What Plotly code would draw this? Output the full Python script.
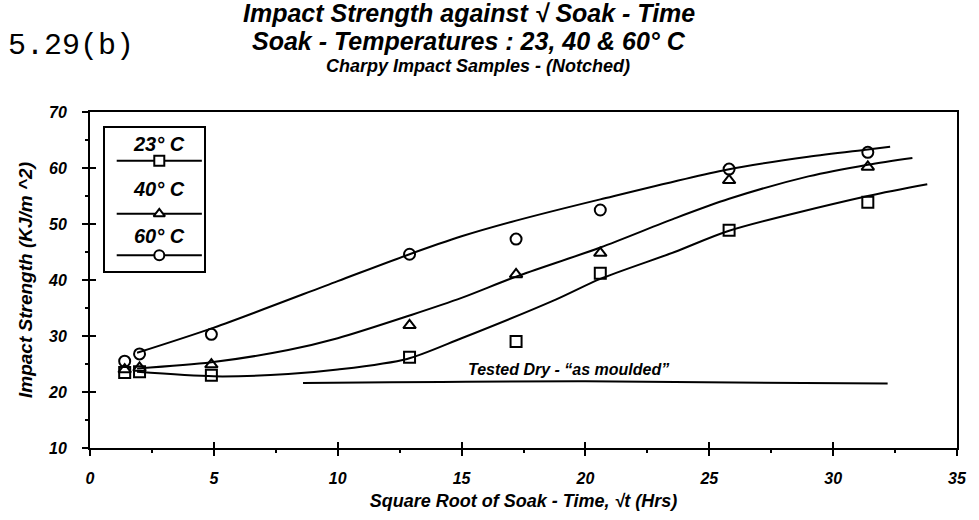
import plotly.graph_objects as go

# Square root of soak time (hrs^0.5) for each measurement
sqrt_t = [1.4, 2.0, 4.9, 12.9, 17.2, 20.6, 25.8, 31.4]

# Measured Charpy impact strength (KJ/m^2) per soak temperature
strength_23 = [23.5, 23.6, 23.0, 26.2, 29.0, 41.2, 48.9, 53.9]
strength_40 = [24.0, 24.3, 24.9, 31.9, 41.0, 44.8, 57.8, 60.2]
strength_60 = [25.5, 26.8, 30.3, 44.6, 47.3, 52.5, 59.8, 62.8]

# Hand-fitted trend curves (x, y) for each temperature
fit23_x = [1.9, 5.0, 8.0, 10.0, 12.8, 15.0, 18.8, 20.6, 23.6, 25.8, 31.4, 33.8]
fit23_y = [23.6, 22.8, 23.2, 24.0, 25.9, 29.6, 36.5, 40.2, 45.0, 48.8, 55.0, 57.1]
fit40_x = [1.9, 4.9, 8.0, 10.0, 13.0, 15.0, 17.2, 20.6, 23.6, 25.8, 29.0, 31.4, 33.2]
fit40_y = [24.2, 25.3, 27.5, 29.6, 33.8, 36.8, 40.6, 45.8, 51.0, 54.5, 58.5, 60.6, 61.8]
fit60_x = [1.9, 5.0, 10.0, 12.9, 15.0, 17.2, 20.6, 25.7, 29.0, 31.4, 32.3]
fit60_y = [27.0, 31.5, 39.8, 44.6, 47.8, 50.6, 54.4, 59.7, 62.0, 63.3, 63.8]

# Dry (as moulded) reference level
dry_x = [8.6, 20.0, 32.2]
dry_y = [21.6, 21.9, 21.5]

x_ticks = [0, 5, 10, 15, 20, 25, 30, 35]
y_ticks = [10, 20, 30, 40, 50, 60, 70]

series_names = ["23° C", "40° C", "60° C"]
symbols = ["square-open", "triangle-up-open", "circle-open"]
key_symbols = ["square", "triangle-up", "circle"]

FONT = "Liberation Sans"
BI = dict(family=FONT, weight="bold", style="italic", color="black")

fig = go.Figure()

# Trend curves
for fx, fy in [(fit23_x, fit23_y), (fit40_x, fit40_y), (fit60_x, fit60_y)]:
    fig.add_trace(go.Scatter(x=fx, y=fy, mode="lines",
                             line=dict(color="black", width=2, shape="spline", smoothing=0.8),
                             showlegend=False, hoverinfo="skip"))

# Measured points
for vals, sym, name in zip([strength_23, strength_40, strength_60], symbols, series_names):
    fig.add_trace(go.Scatter(x=sqrt_t, y=vals, mode="markers", name=name,
                             marker=dict(symbol=sym, size=11, color="black", line=dict(width=2, color="black")),
                             showlegend=False))

# Dry reference line (drawn on the overlay axes that carry the inner tick marks)
fig.add_trace(go.Scatter(x=dry_x, y=dry_y, xaxis="x2", yaxis="y2", mode="lines",
                         line=dict(color="black", width=2, shape="spline"), showlegend=False, hoverinfo="skip"))

# Boxed key: sample line + marker per series with the label above it
key_rows = [0.77, 0.40, 0.11]
key_labels = [0.885, 0.575, 0.245]
for sym, row in zip(key_symbols, key_rows):
    fig.add_trace(go.Scatter(x=[0.12, 0.98], y=[row, row], xaxis="x3", yaxis="y3", mode="lines",
                             line=dict(color="black", width=2), showlegend=False, hoverinfo="skip"))
    fig.add_trace(go.Scatter(x=[0.55], y=[row], xaxis="x3", yaxis="y3", mode="markers",
                             marker=dict(symbol=sym, size=10, color="white", line=dict(width=2, color="black")),
                             showlegend=False, hoverinfo="skip"))

annotations = []
for name, ly in zip(series_names, key_labels):
    annotations.append(dict(x=0.55, y=ly, xref="x3", yref="y3", text=name, showarrow=False,
                            yanchor="middle", font=dict(size=20, **BI)))

annotations += [
    dict(x=0.437, y=1.294, xref="paper", yref="paper", text="Impact Strength against √ Soak - Time",
         showarrow=False, yanchor="middle", font=dict(size=25, **BI)),
    dict(x=0.437, y=1.212, xref="paper", yref="paper", text="Soak - Temperatures : 23, 40 & 60° C",
         showarrow=False, yanchor="middle", font=dict(size=25, **BI)),
    dict(x=0.447, y=1.138, xref="paper", yref="paper", text="Charpy Impact Samples - (Notched)",
         showarrow=False, yanchor="middle", font=dict(size=18, **BI)),
    dict(x=-0.097, y=1.197, xref="paper", yref="paper", text="5.29(b)", xanchor="left",
         showarrow=False, yanchor="middle", font=dict(family="Liberation Mono", size=30, color="black")),
    dict(x=19.3, y=24.1, xref="x", yref="y", text="Tested Dry - “as moulded”",
         showarrow=False, yanchor="middle", font=dict(size=16, **BI)),
]

axis_common = dict(showgrid=False, zeroline=False, linecolor="black", linewidth=2,
                   tickcolor="black", tickwidth=2, ticklen=6)
# Second pair of axes over the plot: only draws the inner half of each major tick
overlay_common = dict(showgrid=False, zeroline=False, tickcolor="black", tickwidth=2, ticklen=6,
                      showticklabels=False, showline=True, linecolor="black", linewidth=2, ticks="inside")

fig.update_layout(
    width=979, height=520,
    margin=dict(l=90, r=13, t=112, b=68),
    paper_bgcolor="white", plot_bgcolor="white",
    showlegend=False,
    xaxis=dict(range=[0, 35], tickvals=x_ticks, ticks="outside", showline=True, mirror=True,
               tickfont=dict(size=16, **BI), ticklabelstandoff=9,
               minor=dict(dtick=2.5, ticks="outside", ticklen=3, tickwidth=2, tickcolor="black"),
               title=dict(text="Square Root of Soak - Time, √t (Hrs)", font=dict(size=18, **BI), standoff=8),
               **axis_common),
    yaxis=dict(range=[10, 70], tickvals=y_ticks, ticks="outside", showline=True, mirror=True,
               tickfont=dict(size=16, **BI), ticklabelstandoff=12,
               minor=dict(dtick=5, ticks="outside", ticklen=3, tickwidth=2, tickcolor="black"),
               title=dict(text="Impact Strength (KJ/m ^2)", font=dict(size=19, **BI), standoff=10),
               **axis_common),
    xaxis2=dict(range=[0, 35], overlaying="x", anchor="y2", side="bottom", tickvals=x_ticks,
                ticklabelposition="inside", **overlay_common),
    yaxis2=dict(range=[10, 70], overlaying="y", anchor="x2", side="left", tickvals=y_ticks,
                ticklabelposition="inside", **overlay_common),
    xaxis3=dict(domain=[0.0171, 0.1313], range=[0, 1], anchor="y3", showline=True, mirror=True,
                linecolor="black", linewidth=2, showgrid=False, zeroline=False, showticklabels=False, ticks=""),
    yaxis3=dict(domain=[0.5265, 0.953], range=[0, 1], anchor="x3", showline=True, mirror=True,
                linecolor="black", linewidth=2, showgrid=False, zeroline=False, showticklabels=False, ticks=""),
    annotations=annotations,
)

fig.write_html("out.html")
